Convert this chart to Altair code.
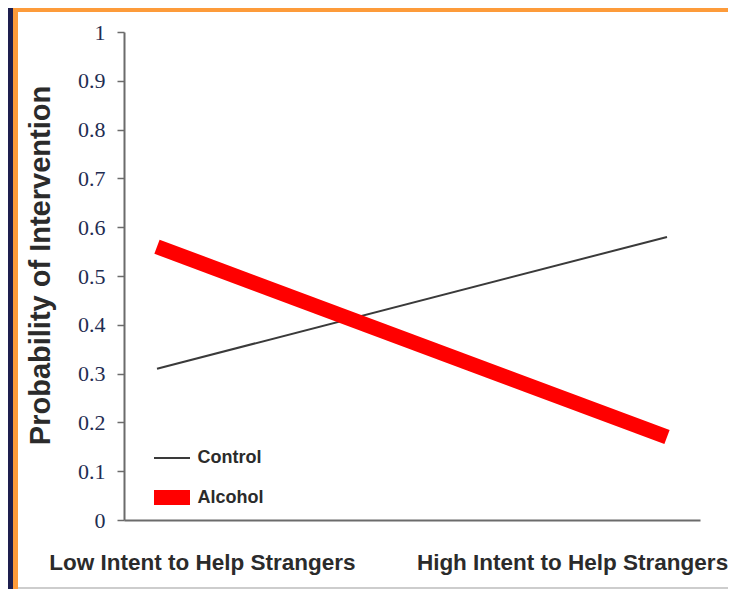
import altair as alt
import pandas as pd

conditions = ["Low Intent to Help Strangers", "High Intent to Help Strangers"]
series = ["Control", "Alcohol"]
control = [0.31, 0.58]
alcohol = [0.56, 0.17]
y_ticks = [0, 0.1, 0.2, 0.3, 0.4, 0.5, 0.6, 0.7, 0.8, 0.9, 1]

rows = []
for s, vals in zip(series, [control, alcohol]):
    for c, v in zip(conditions, vals):
        rows.append({"condition": c, "series": s, "value": v})
df = pd.DataFrame(rows)

NAVY = "#1e1f4f"
ORANGE = "#fd9b3a"
SANS = "Liberation Sans, Arial, sans-serif"

one = alt.Data(values=[{"k": 1}])

orange_bg = alt.Chart(one).mark_rect(color=ORANGE).encode(
    x=alt.value(-111), x2=alt.value(620), y=alt.value(-25), y2=alt.value(580)
)
white_bg = alt.Chart(one).mark_rect(color="white").encode(
    x=alt.value(-106), x2=alt.value(620), y=alt.value(-20), y2=alt.value(580)
)
bottom_rule = alt.Chart(one).mark_rule(color="#bdbdbd", strokeWidth=1.5).encode(
    x=alt.value(-106), x2=alt.value(620), y=alt.value(556)
)

legend = alt.Legend(
    orient="none", legendX=22.5, legendY=407, title=None,
    symbolType="stroke", symbolSize=1296, rowPadding=0,
    labelFont=SANS, labelFontSize=18, labelFontWeight="bold",
    labelColor="#2b2b2b", labelOffset=0, zindex=1,
)

lines = alt.Chart(df).mark_line(strokeCap="butt").encode(
    x=alt.X(
        "condition:N", sort=conditions, title=None,
        scale=alt.Scale(type="point", padding=0.0647),
        axis=alt.Axis(
            domainColor="#6b6b6b", domainWidth=2, ticks=False, tickSize=0,
            labelFont=SANS, labelFontSize=22.5, labelFontWeight="bold",
            labelColor="#2b2b2b", labelAngle=0, labelBaseline="top",
            labelPadding=31, labelLimit=0, labelFlush=False, labelOverlap=False,
            labelOffset={"condition": {"test": "datum.value == 'Low Intent to Help Strangers'", "value": 45}, "value": -95},
            zindex=1,
        ),
    ),
    y=alt.Y(
        "value:Q",
        scale=alt.Scale(domain=[0, 1], nice=False, zero=True),
        axis=alt.Axis(
            values=y_ticks, format=".1~f", grid=False,
            domainColor="#6b6b6b", domainWidth=2,
            tickColor="#6b6b6b", tickWidth=1.5, tickSize=7,
            labelFont="Liberation Serif", labelFontSize=22,
            labelColor="#1f2d52", labelPadding=12,
            title="Probability of Intervention",
            titleFont=SANS, titleFontSize=29, titleFontWeight="bold",
            titleColor="#2b2b2b", titleAngle=-90, titleX=-84, titleY=233,
            titleAlign="center", titleBaseline="middle",
            zindex=1,
        ),
    ),
    color=alt.Color(
        "series:N",
        scale=alt.Scale(domain=series, range=["#3a3a3a", "#ff0000"]),
        legend=legend,
    ),
    strokeWidth=alt.StrokeWidth(
        "series:N",
        scale=alt.Scale(domain=series, range=[2, 15]),
        legend=legend,
    ),
    order=alt.Order("series_order:Q"),
).transform_calculate(series_order="datum.series == 'Control' ? 0 : 1")

chart = alt.layer(orange_bg, white_bg, bottom_rule, lines).properties(
    width=576, height=488,
    background=NAVY,
    padding={"left": 116, "top": 24, "right": 28, "bottom": 69},
    autosize=alt.AutoSizeParams(type="none"),
).configure_view(stroke=None)

chart.save("out.html", embed_options={"renderer": "svg", "actions": False})
